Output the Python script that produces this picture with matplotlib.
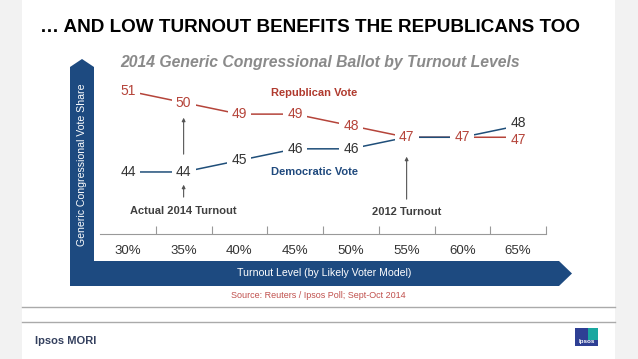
import numpy as np
import matplotlib
matplotlib.use('Agg')
import matplotlib.pyplot as plt
from matplotlib.patches import Polygon, Rectangle

plt.rcParams['font.family'] = ['Liberation Sans', 'DejaVu Sans']

turnout = ['30%', '35%', '40%', '45%', '50%', '55%', '60%', '65%']
republican = [51, 50, 49, 49, 48, 47, 47, 47]
democratic = [44, 44, 45, 46, 46, 47, 47, 48]

red = '#b5443a'
blue = '#1f4e79'
navy = '#1d4a80'

W, H = 638, 359
fig = plt.figure(figsize=(W / 100, H / 100), dpi=100, facecolor='#f2f2f2')

# slide background / decorations in pixel coordinates
bg = fig.add_axes([0, 0, 1, 1], zorder=0)
bg.set_xlim(0, W)
bg.set_ylim(H, 0)
bg.axis('off')
bg.add_patch(Rectangle((22, 0), 593, H, facecolor='white', edgecolor='none'))
bg.plot([22, 615], [306.5, 306.5], color='#aaaaaa', lw=1)
bg.plot([22, 615], [322, 322], color='#aaaaaa', lw=1)
frame = [(70, 286), (70, 67), (82, 59), (94, 67), (94, 261), (559, 261),
         (572, 273.5), (559, 286)]
bg.add_patch(Polygon(frame, closed=True, facecolor=navy, edgecolor='none'))

bg.text(40, 27, '\u2026 AND LOW TURNOUT BENEFITS THE REPUBLICANS TOO',
        fontsize=13.6, fontweight='bold', color='black', va='center', ha='left')
bg.text(320, 62, '2014 Generic Congressional Ballot by Turnout Levels',
        fontsize=11.3, fontweight='bold', style='italic', color='#8a8a8a',
        va='center', ha='center')
bg.text(82, 165, 'Generic Congressional Vote Share', rotation=90, fontsize=7.6,
        color='white', va='center', ha='center')
bg.text(324, 273.5, 'Turnout Level (by Likely Voter Model)', fontsize=7.6,
        color='white', va='center', ha='center')
bg.text(318, 295, 'Source: Reuters / Ipsos Poll; Sept-Oct 2014', fontsize=6.5,
        color='#c0504d', va='center', ha='center')
bg.text(35, 341, 'Ipsos MORI', fontsize=8, fontweight='bold', color='#34405e',
        va='center', ha='left')
# logo
bg.add_patch(Rectangle((575, 328), 23, 18, facecolor='#2e3f94', edgecolor='none'))
bg.add_patch(Rectangle((588, 328), 10, 12, facecolor='#1aa7a0', edgecolor='none'))
bg.text(586.5, 341, 'Ipsos', fontsize=4.5, fontweight='bold', color='white',
        va='center', ha='center')

# main chart
ax = fig.add_axes([100 / W, (H - 234) / H, 446 / W, (234 - 75) / H], zorder=1)
ax.patch.set_alpha(0)
x = np.arange(len(turnout))
ax.plot(x, republican, color=red, lw=1.1, zorder=2)
ax.plot(x, democratic, color=blue, lw=1.1, zorder=2)

# labels: white boxes first (to break the lines), then the numbers on top
box = dict(facecolor='white', edgecolor='none', pad=3)
labels = []
for i in x:
    r_off, d_off = 0, 0
    if democratic[i] != republican[i] and abs(democratic[i] - republican[i]) == 1:
        r_off, d_off = -3, 3
    labels.append((i, republican[i], red, r_off))
    if democratic[i] != republican[i]:
        labels.append((i, democratic[i], '#333333', d_off))
for i, v, c, off in labels:
    ax.annotate(str(v), (i, v), xytext=(0, off), textcoords='offset pixels',
                fontsize=10, color=(1, 1, 1, 0), ha='center', va='center',
                bbox=box, zorder=3)
for i, v, c, off in labels:
    ax.annotate(str(v), (i, v), xytext=(0, off), textcoords='offset pixels',
                fontsize=10, color=c, ha='center', va='center', zorder=4)

ax.text(3.34, 50.83, 'Republican Vote', fontsize=8, fontweight='bold', color='#b03a2e',
        ha='center', va='center')
ax.text(3.34, 44.0, 'Democratic Vote', fontsize=8, fontweight='bold', color='#1f497d',
        ha='center', va='center')
ax.text(1, 40.63, 'Actual 2014 Turnout', fontsize=8, fontweight='bold', color='#404040',
        ha='center', va='center')
ax.text(5, 40.54, '2012 Turnout', fontsize=8, fontweight='bold', color='#404040',
        ha='center', va='center')

arrow = dict(arrowstyle='-|>', color='#555555', lw=0.8, mutation_scale=5)
ax.annotate('', xy=(1, 43.14), xytext=(1, 41.59), arrowprops=arrow, zorder=5)
ax.annotate('', xy=(1, 48.93), xytext=(1, 45.30), arrowprops=arrow, zorder=5)
ax.annotate('', xy=(5, 45.56), xytext=(5, 41.41), arrowprops=arrow, zorder=5)

ax.set_xlim(-0.5, 7.5)
ax.set_ylim(38.64, 52.38)
for s in ['top', 'left', 'right']:
    ax.spines[s].set_visible(False)
ax.spines['bottom'].set_color('#999999')
ax.spines['bottom'].set_linewidth(0.8)
ax.set_xticks(x)
ax.set_xticklabels(turnout, fontsize=9.5, color='#333333')
ax.set_xticks(list(x + 0.5), minor=True)
ax.tick_params(axis='x', which='major', length=0, pad=8)
ax.tick_params(axis='x', which='minor', direction='in', length=6, color='#999999', width=0.8)
ax.set_yticks([])

fig.savefig('out.png', dpi=100, facecolor=fig.get_facecolor())
